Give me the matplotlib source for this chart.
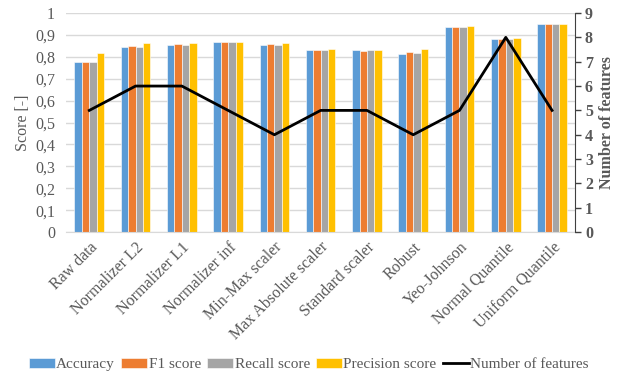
import matplotlib.pyplot as plt
import numpy as np

plt.rcParams['font.family'] = ['Liberation Serif', 'DejaVu Serif']

methods = ["Raw data", "Normalizer L2", "Normalizer L1", "Normalizer inf",
           "Min-Max scaler", "Max Absolute scaler", "Standard scaler",
           "Robust", "Yeo-Johnson", "Normal Quantile", "Uniform Quantile"]
accuracy = [0.776, 0.843, 0.856, 0.869, 0.856, 0.829, 0.831, 0.815, 0.934, 0.882, 0.948]
f1_score = [0.776, 0.849, 0.860, 0.866, 0.860, 0.832, 0.827, 0.823, 0.934, 0.882, 0.948]
recall = [0.776, 0.843, 0.856, 0.869, 0.856, 0.829, 0.831, 0.817, 0.934, 0.882, 0.948]
precision = [0.816, 0.861, 0.864, 0.866, 0.864, 0.835, 0.831, 0.837, 0.939, 0.887, 0.951]
n_features = [5, 6, 6, 5, 4, 5, 5, 4, 5, 8, 5]

series = [("Accuracy", accuracy, "#5B9BD5"),
          ("F1 score", f1_score, "#ED7D31"),
          ("Recall score", recall, "#A5A5A5"),
          ("Precision score", precision, "#FFC000")]

fig = plt.figure(figsize=(6.3, 3.72), dpi=100)
ax = fig.add_axes([0.105, 0.376, 0.808, 0.589])
x = np.arange(len(methods))
w = 0.16
for i, (name, vals, col) in enumerate(series):
    ax.bar(x + (i - 1.5) * w, vals, w, color=col, label=name,
           edgecolor="white", linewidth=0.4, zorder=2)

ax.set_xlim(-0.5, len(methods) - 0.5)
ax.set_ylim(0, 1)
ax.set_yticks(np.arange(0, 1.01, 0.1))
ax.set_yticklabels(["0"] + [f"0,{k}" for k in range(1, 10)] + ["1"])
ax.yaxis.grid(True, color="#D9D9D9", linewidth=1, zorder=0)
ax.set_axisbelow(True)
for s in ["left", "top", "right"]:
    ax.spines[s].set_visible(False)
ax.spines["bottom"].set_color("#D9D9D9")
ax.tick_params(axis="y", length=0, labelsize=11.5, labelcolor="#595959", pad=8)
ax.tick_params(axis="x", length=0, labelsize=11.5, labelcolor="#595959", pad=5)
ax.set_xticks(x)
ax.set_xticklabels(methods, rotation=45, ha="right", rotation_mode="anchor")
ax.set_ylabel("Score [-]", fontsize=11.5, color="#595959", labelpad=3)

ax2 = ax.twinx()
ax2.plot(x, n_features, color="black", linewidth=2, label="Number of features", zorder=3)
ax2.set_ylim(0, 9)
ax2.set_yticks(range(10))
for s in ["left", "top", "bottom"]:
    ax2.spines[s].set_visible(False)
ax2.spines["right"].set_color("#404040")
ax2.tick_params(axis="y", length=4, width=1, color="#404040", labelsize=11.5,
                labelcolor="#595959", pad=3)
for lbl in ax2.get_yticklabels():
    lbl.set_fontweight("bold")
ax2.set_ylabel("Number of features", fontsize=11.5, color="#595959",
               fontweight="bold", labelpad=4)

h1, l1 = ax.get_legend_handles_labels()
h2, l2 = ax2.get_legend_handles_labels()
fig.legend(h1 + h2, l1 + l2, loc="lower center", bbox_to_anchor=(0.49, -0.035),
           ncol=5, frameon=False, fontsize=11, handlelength=1.7, handleheight=0.6,
           handletextpad=0.1, columnspacing=0.4, labelcolor="#595959")

fig.savefig("out.png", dpi=100)
